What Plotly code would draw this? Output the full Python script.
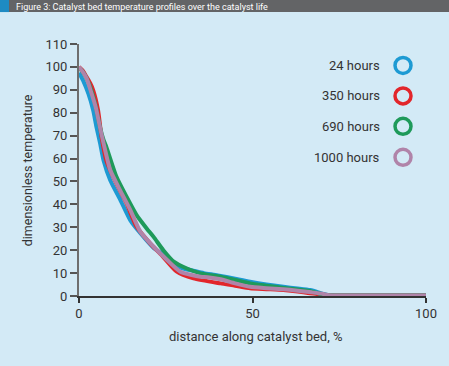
import plotly.graph_objs as go

# Data
series_names = ['24 hours', '350 hours', '690 hours', '1000 hours']
series_colors = ['#1D9AD3', '#E2262B', '#1E9A5A', '#B084A9']

x_24 = [0, 1.2, 2.7, 4.1, 5, 6.1, 7.1, 9, 11.9, 14.8, 17.7, 21.5, 25.4, 27.3, 30, 33, 36, 40,
        45, 49.3, 54, 58.9, 63, 66.6, 69, 70.4, 72, 80, 90, 100]
y_24 = [97.5, 94, 88.3, 81, 74, 66.5, 59, 50.5, 42, 33, 27.4, 21, 17, 13.5, 12, 11, 10, 9,
        7.5, 6.2, 5, 4, 3.3, 2.6, 1.6, 0.9, 0.3, 0.2, 0.2, 0.2]

x_350 = [0, 1, 2.2, 3.2, 4.1, 5.5, 6.5, 7.9, 10.8, 13.7, 16.6, 20.5, 24.3, 28.2, 33, 40.8,
         45, 49.3, 54, 58.9, 63, 66, 68.5, 71, 73, 80, 90, 100]
y_350 = [100, 98.5, 95.6, 93, 89.8, 81, 69.4, 59, 49, 40.4, 30.2, 23, 17, 10.6, 7.7, 5.5,
         4.5, 3.4, 3, 2.6, 2, 1.3, 0.9, 0.4, 0.2, 0.2, 0.2, 0.2]

x_690 = [0, 1, 2.2, 3.5, 4.8, 6, 7.1, 7.9, 10.8, 13.7, 16.6, 19.5, 21.5, 24.3, 27.3, 31.1,
         35, 40.8, 45, 49.3, 54, 59, 63, 67, 70, 72, 80, 90, 100]
y_690 = [99.5, 98, 95, 90, 83, 74, 68, 65, 52, 43.3, 35.3, 29.5, 25.8, 20, 15, 12,
         9.9, 8.4, 7, 5.5, 4.5, 3.5, 2.8, 2, 0.8, 0.3, 0.2, 0.2, 0.2]

x_1000 = [0, 1, 2.2, 3.5, 4.8, 6, 7.1, 9, 11.9, 14.8, 17.7, 21.5, 25.4, 29.2, 35, 37, 40.8,
          45, 49.3, 54, 58.9, 63, 67, 70.4, 72, 80, 90, 100]
y_1000 = [100, 98, 95, 89, 82.5, 74, 66.5, 55, 46, 37.5, 28, 21.5, 15.7, 10.6, 8.4, 8.2, 7.3,
          5.5, 4, 3.4, 2.9, 2.3, 1.6, 0.9, 0.3, 0.2, 0.2, 0.2]

x_ticks = [0, 50, 100]
y_ticks = list(range(0, 111, 10))
title_text = 'Figure 3: Catalyst bed temperature profiles over the catalyst life'

xs = [x_24, x_350, x_690, x_1000]
ys = [y_24, y_350, y_690, y_1000]

W, H = 449, 366
L, R, T, B = 79, 23, 43.5, 70
font = 'Roboto, Liberation Sans, sans-serif'
txt = '#333333'


# pixel position -> paper fraction
def px(x):
    return (x - L) / (W - L - R)


def py(y):
    return (H - B - y) / (H - T - B)


data = []
for name, color, x, y in zip(series_names, series_colors, xs, ys):
    data.append(go.Scatter(x=x, y=y, mode='lines', name=name,
                           line=dict(color=color, width=4, shape='spline', smoothing=0.6)))

# custom legend: text on the left, open circle on the right (pixel coordinates)
leg_y = [65, 95.5, 126, 157]
data.append(go.Scatter(x=[403] * 4, y=leg_y, xaxis='x2', yaxis='y2', mode='markers',
                       marker=dict(symbol='circle-open', size=16, color=series_colors,
                                   line=dict(width=3.5)),
                       hoverinfo='skip', showlegend=False))

annotations = []
for name, yy in zip(series_names, leg_y):
    annotations.append(dict(x=px(382), y=py(yy), xref='paper', yref='paper', text=name,
                            showarrow=False, xanchor='right', yanchor='middle',
                            font=dict(size=13, color=txt)))
annotations.append(dict(x=px(255.5), y=py(336.5), xref='paper', yref='paper',
                        text='distance along catalyst bed, %', showarrow=False,
                        xanchor='center', yanchor='middle', font=dict(size=13, color=txt)))
annotations.append(dict(x=px(27), y=py(170), xref='paper', yref='paper',
                        text='dimensionless temperature', showarrow=False, textangle=-90,
                        xanchor='center', yanchor='middle', font=dict(size=12.5, color=txt)))
annotations.append(dict(x=px(14), y=py(6), xref='paper', yref='paper', text=title_text,
                        showarrow=False, xanchor='left', yanchor='middle',
                        font=dict(size=9, color='white')))

# header band
shapes = [
    dict(type='rect', xref='paper', yref='paper', x0=px(0), x1=px(W), y0=py(-5), y1=py(11.5),
         fillcolor='#636466', line=dict(width=0), layer='below'),
    dict(type='rect', xref='paper', yref='paper', x0=px(0), x1=px(9), y0=py(-5), y1=py(11.5),
         fillcolor='#1E8BC3', line=dict(width=0), layer='below'),
]

layout = dict(
    width=W, height=H,
    margin=dict(l=L, r=R, t=T, b=B, autoexpand=False),
    paper_bgcolor='#D3EAF6', plot_bgcolor='rgba(0,0,0,0)',
    showlegend=False,
    font=dict(family=font, size=13, color=txt),
    xaxis=dict(range=[0, 100], tickvals=x_ticks, ticks='outside', ticklen=5, tickwidth=1.5,
               tickcolor='#333333', showline=True, linecolor='#333333', linewidth=1.5,
               showgrid=False, zeroline=False, tickfont=dict(size=13, color=txt)),
    yaxis=dict(range=[0, 110], tickvals=y_ticks, ticks='outside', ticklen=7, tickwidth=1.5,
               tickcolor='#555555', showline=True, linecolor='#6E6E6E', linewidth=2,
               showgrid=False, zeroline=False, tickfont=dict(size=13, color=txt)),
    xaxis2=dict(domain=[0, 1], range=[L, W - R], visible=False, overlaying='x', anchor='y2'),
    yaxis2=dict(domain=[0, 1], range=[H - B, T], visible=False, overlaying='y', anchor='x2'),
    annotations=annotations,
    shapes=shapes,
)

fig = go.Figure(data=data, layout=layout)
fig.write_html('out.html', config={'displayModeBar': False},
               post_script="document.body.style.margin='0px';")
